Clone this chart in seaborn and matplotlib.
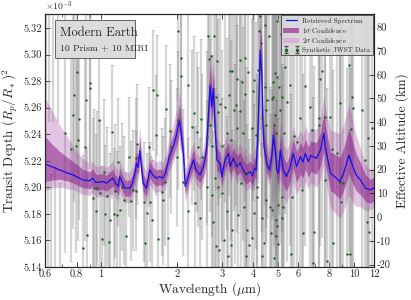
import numpy as np
import pandas as pd
import matplotlib
matplotlib.use("Agg")
import matplotlib.pyplot as plt
import seaborn as sns
from matplotlib.lines import Line2D
from matplotlib.patches import Patch, Rectangle
from matplotlib.ticker import FixedLocator, NullFormatter, FixedFormatter, LogLocator

###############
# data (depth in units of 1e-3)
###############

model_wl = [0.60, 0.64, 0.685, 0.73, 0.774, 0.81, 0.847, 0.88, 0.901, 0.926, 0.953, 0.98,
            1.02, 1.05, 1.08, 1.114, 1.14, 1.17, 1.185, 1.21, 1.24, 1.30, 1.33, 1.36, 1.38,
            1.40, 1.422, 1.466, 1.51, 1.558, 1.60, 1.65, 1.70, 1.75, 1.80, 1.86, 1.93, 1.99,
            2.04, 2.08, 2.12, 2.15, 2.19, 2.246, 2.32, 2.37, 2.46, 2.54, 2.61, 2.65, 2.697,
            2.74, 2.78, 2.82, 2.87, 2.954, 3.00, 3.09, 3.19, 3.24, 3.335, 3.44, 3.55, 3.65,
            3.74, 3.886, 3.97, 4.05, 4.10, 4.17, 4.256, 4.32, 4.36, 4.41, 4.52, 4.63, 4.73,
            4.80, 4.88, 4.95, 5.03, 5.11, 5.25, 5.41, 5.60, 5.75, 5.93, 6.14, 6.28, 6.42,
            6.60, 6.75, 6.90, 7.10, 7.37, 7.60, 7.70, 8.07, 8.40, 8.80, 9.10, 9.55, 9.90,
            10.2, 10.6, 11.1, 11.6, 12.0]
model_depth = [5.2175, 5.2155, 5.2131, 5.2110, 5.2094, 5.2075, 5.2056, 5.2052, 5.2048, 5.2069,
               5.2036, 5.2040, 5.2043, 5.2031, 5.2050, 5.2069, 5.2030, 5.2006, 5.2081, 5.2040,
               5.1994, 5.1994, 5.2030, 5.2106, 5.2181, 5.2150, 5.2275, 5.2031, 5.1994, 5.2131,
               5.2094, 5.2069, 5.2080, 5.2069, 5.2106, 5.2231, 5.2306, 5.2400, 5.2507, 5.2381,
               5.2231, 5.2006, 5.2050, 5.2131, 5.2206, 5.2131, 5.2094, 5.2156, 5.2281, 5.2507,
               5.2770, 5.2607, 5.2745, 5.2456, 5.2206, 5.2181, 5.2081, 5.2206, 5.2256, 5.2156,
               5.2219, 5.2156, 5.2185, 5.2131, 5.2094, 5.2118, 5.2086, 5.2144, 5.2131, 5.2407,
               5.3033, 5.2858, 5.2482, 5.2306, 5.2181, 5.2131, 5.2231, 5.2394, 5.2281, 5.2131,
               5.2106, 5.2281, 5.2131, 5.2081, 5.2156, 5.2256, 5.2156, 5.2231, 5.2190, 5.2256,
               5.2194, 5.2240, 5.2231, 5.2219, 5.2281, 5.2407, 5.2306, 5.2106, 5.2080, 5.2043,
               5.2106, 5.2243, 5.2156, 5.2094, 5.2056, 5.1994, 5.1981, 5.1996]
# band widths above / below the retrieved spectrum
up1 = [.021, .017, .014, .012, .010, .009, .008, .007, .007, .007, .006, .006, .006, .006, .006,
       .007, .006, .006, .007, .006, .006, .006, .006, .007, .008, .008, .010, .007, .006, .007,
       .006, .006, .006, .006, .007, .008, .009, .010, .012, .010, .008, .007, .007, .007, .008,
       .007, .007, .008, .010, .012, .014, .013, .014, .012, .009, .008, .007, .008, .008, .008,
       .008, .008, .008, .008, .008, .008, .008, .008, .009, .013, .020, .018, .014, .011, .009,
       .008, .009, .011, .010, .009, .009, .011, .010, .010, .010, .011, .011, .011, .011, .011,
       .011, .011, .011, .012, .013, .016, .016, .016, .017, .018, .019, .020, .018, .016, .013,
       .010, .008, .008]
dn1 = [.013, .010, .007, .006, .006, .006, .006, .006, .006, .006, .006, .006, .006, .006, .006,
       .006, .006, .006, .006, .006, .006, .006, .006, .006, .006, .006, .007, .006, .006, .006,
       .006, .006, .006, .006, .006, .007, .007, .008, .009, .008, .007, .006, .006, .006, .006,
       .006, .006, .007, .008, .009, .010, .010, .010, .009, .008, .007, .007, .007, .007, .007,
       .007, .007, .007, .007, .007, .007, .007, .007, .007, .010, .014, .013, .010, .008, .007,
       .007, .007, .008, .008, .007, .008, .012, .011, .011, .011, .011, .012, .013, .012, .012,
       .012, .012, .012, .012, .012, .013, .013, .013, .013, .013, .013, .014, .013, .012, .011,
       .010, .010, .010]
up2 = [.050, .042, .034, .028, .022, .018, .016, .014, .013, .013, .012, .012, .012, .012, .012,
       .013, .012, .012, .013, .012, .012, .012, .012, .014, .015, .015, .018, .013, .012, .013,
       .012, .012, .012, .012, .013, .015, .017, .019, .022, .019, .015, .013, .013, .013, .014,
       .013, .013, .014, .018, .022, .026, .024, .026, .022, .017, .015, .014, .015, .015, .014,
       .015, .014, .014, .014, .014, .014, .014, .015, .016, .024, .030, .028, .024, .019, .016,
       .015, .016, .019, .017, .016, .016, .022, .020, .020, .020, .021, .021, .020, .020, .021,
       .021, .021, .021, .022, .024, .028, .030, .032, .034, .036, .037, .038, .034, .030, .024,
       .018, .015, .015]
dn2 = [.020, .016, .013, .012, .011, .011, .011, .011, .011, .011, .011, .011, .011, .011, .011,
       .011, .011, .011, .011, .011, .011, .011, .011, .011, .011, .011, .012, .011, .011, .011,
       .011, .011, .011, .011, .011, .012, .012, .013, .014, .013, .012, .011, .011, .011, .011,
       .011, .011, .012, .013, .015, .016, .016, .016, .015, .013, .012, .012, .012, .012, .012,
       .012, .012, .012, .012, .012, .012, .012, .012, .012, .016, .020, .019, .016, .013, .012,
       .012, .012, .013, .013, .012, .014, .022, .020, .020, .020, .021, .021, .022, .021, .021,
       .021, .021, .021, .022, .022, .023, .024, .026, .027, .028, .028, .030, .027, .024, .020,
       .017, .015, .015]

data_wl = [0.605, 0.615, 0.625, 0.635, 0.645, 0.66, 0.675, 0.69, 0.719, 0.759, 0.774, 0.782,
           0.793, 0.802, 0.810, 0.819, 0.847, 0.861, 0.869, 0.882, 0.901, 0.907, 0.929, 0.937,
           0.954, 0.967, 0.984, 0.987, 1.008, 1.027, 1.040, 1.055, 1.072, 1.089, 1.105, 1.122,
           1.132, 1.156, 1.167, 1.193, 1.210, 1.232, 1.260, 1.286, 1.318, 1.341, 1.371, 1.380,
           1.390, 1.479, 1.498, 1.512, 1.545, 1.558, 1.591, 1.606, 1.646, 1.666, 1.681, 1.744,
           1.760, 1.788, 1.799, 1.832, 1.871, 1.885, 1.989, 2.007, 2.018, 2.063, 2.078, 2.112,
           2.199, 2.211, 2.287, 2.330, 2.351, 2.388, 2.423, 2.461, 2.477, 2.506, 2.616, 2.630,
           2.655, 2.679, 2.697, 2.722, 2.740, 2.754, 2.779, 2.797, 2.823, 2.835, 2.848, 2.882,
           2.895, 2.909, 2.922, 2.954, 3.001, 3.015, 3.073, 3.092, 3.141, 3.155, 3.169, 3.216,
           3.237, 3.251, 3.266, 3.287, 3.305, 3.366, 3.388, 3.420, 3.441, 3.459, 3.492, 3.530,
           3.546, 3.562, 3.602, 3.654, 3.671, 3.712, 3.721, 3.731, 3.745, 3.769, 3.824, 3.842,
           3.945, 3.967, 3.993, 4.011, 4.040, 4.111, 4.130, 4.142, 4.160, 4.207, 4.266, 4.285,
           4.309, 4.325, 4.345, 4.389, 4.437, 4.457, 4.469, 4.486, 4.498, 4.526, 4.592, 4.665,
           4.677, 4.721, 4.738, 4.781, 4.794, 4.807, 4.820, 4.864, 4.883, 4.896, 4.909, 4.927,
           4.945, 4.963, 4.982, 4.995, 5.009, 5.031, 5.111, 5.158, 5.176, 5.190, 5.203, 5.237,
           5.266, 5.350, 5.433, 5.600, 5.650, 5.686, 5.769, 5.951, 6.135, 6.232, 6.259, 6.381,
           6.722, 6.827, 6.890, 6.928, 7.250, 7.297, 7.366, 7.480, 7.659, 7.710, 7.830, 8.017,
           8.195, 8.232, 8.575, 8.781, 8.822, 8.863, 9.042, 9.397, 9.535, 9.685, 9.772, 9.835,
           9.890, 10.78, 11.01, 11.28, 11.31, 11.45, 11.81]
data_depth = [5.360, 5.110, 5.350, 5.120, 5.345, 5.125, 5.340, 5.118, 5.2411, 5.2286, 5.2546,
              5.2694, 5.2311, 5.2869, 5.2356, 5.2511, 5.1543, 5.2306, 5.2660, 5.1643, 5.2786,
              5.2749, 5.1923, 5.1993, 5.1825, 5.1998, 5.2506, 5.1960, 5.1610, 5.2113, 5.1798,
              5.1935, 5.1592, 5.1755, 5.2418, 5.1798, 5.1975, 5.1793, 5.2189, 5.1830, 5.2005,
              5.1905, 5.1635, 5.2231, 5.1900, 5.1981, 5.1975, 5.2219, 5.2326, 5.1893, 5.1580,
              5.1806, 5.2306, 5.1893, 5.1755, 5.2732, 5.2394, 5.2694, 5.1610, 5.1968, 5.1905,
              5.2043, 5.2589, 5.1618, 5.2426, 5.2306, 5.2226, 5.2506, 5.3175, 5.2837, 5.2977,
              5.2043, 5.1818, 5.2774, 5.2456, 5.2557, 5.1881, 5.2418, 5.2306, 5.1768, 5.2514,
              5.2231, 5.2005, 5.2376, 5.3137, 5.2964, 5.2469, 5.2987, 5.2313, 5.1943, 5.1742,
              5.3137, 5.2068, 5.1555, 5.2681, 5.2949, 5.2569, 5.2005, 5.1530, 5.2626, 5.2313,
              5.1956, 5.1605, 5.2606, 5.2406, 5.1818, 5.1480, 5.2694, 5.2876, 5.2356, 5.1567,
              5.1680, 5.2876, 5.2581, 5.2181, 5.2619, 5.2444, 5.2812, 5.1793, 5.2957, 5.2576,
              5.2031, 5.2794, 5.2406, 5.1855, 5.2970, 5.2699, 5.2106, 5.1480, 5.1680, 5.2869,
              5.1567, 5.2444, 5.1618, 5.2726, 5.1806, 5.2807, 5.2394, 5.2005, 5.1930, 5.2887,
              5.3175, 5.3290, 5.3087, 5.2519, 5.1768, 5.1480, 5.1580, 5.3225, 5.2752, 5.2581,
              5.2469, 5.1905, 5.2656, 5.3137, 5.1855, 5.1655, 5.2662, 5.1830, 5.2681, 5.2794,
              5.2469, 5.1468, 5.2861, 5.2544, 5.1755, 5.1630, 5.2411, 5.2831, 5.1705, 5.3252,
              5.1868, 5.1573, 5.2752, 5.2581, 5.3157, 5.2681, 5.1930, 5.1768, 5.1855, 5.2406,
              5.2906, 5.2644, 5.2769, 5.1500, 5.1926, 5.2386, 5.2343, 5.2519, 5.1981, 5.1655,
              5.2762, 5.2602, 5.2431, 5.1430, 5.1667, 5.2469, 5.2519, 5.2819, 5.2876, 5.2527,
              5.2056, 5.1447, 5.2527, 5.2286, 5.1580, 5.2261, 5.2636, 5.2043, 5.1893, 5.2031,
              5.1500, 5.2919, 5.1500, 5.2436, 5.2681, 5.2594, 5.2581, 5.2206, 5.1742, 5.2375,
              5.1667, 5.2444]
data_err = [0.100, 0.095, 0.100, 0.090, 0.095, 0.090, 0.090, 0.085, 0.090, 0.085, 0.085, 0.080,
            0.080, 0.075, 0.075, 0.075, 0.070, 0.070, 0.065, 0.065, 0.060, 0.060, 0.060, 0.060,
            0.058, 0.058, 0.055, 0.055, 0.055, 0.055, 0.052, 0.052, 0.052, 0.050, 0.050, 0.050,
            0.050, 0.048, 0.048, 0.048, 0.048, 0.048, 0.048, 0.045, 0.045, 0.045, 0.045, 0.045,
            0.045, 0.045, 0.045, 0.045, 0.045, 0.045, 0.045, 0.045, 0.045, 0.045, 0.045, 0.048,
            0.048, 0.048, 0.048, 0.048, 0.050, 0.050, 0.052, 0.052, 0.052, 0.055, 0.055, 0.055,
            0.055, 0.055, 0.058, 0.058, 0.058, 0.060, 0.060, 0.060, 0.060, 0.062, 0.065, 0.065,
            0.065, 0.065, 0.065, 0.065, 0.068, 0.068, 0.068, 0.068, 0.068, 0.068, 0.070, 0.070,
            0.070, 0.070, 0.070, 0.070, 0.072, 0.072, 0.072, 0.072, 0.072, 0.072, 0.072, 0.075,
            0.075, 0.075, 0.075, 0.075, 0.075, 0.075, 0.075, 0.075, 0.078, 0.078, 0.078, 0.078,
            0.078, 0.078, 0.078, 0.080, 0.080, 0.080, 0.080, 0.080, 0.080, 0.080, 0.080, 0.080,
            0.082, 0.082, 0.082, 0.082, 0.082, 0.085, 0.085, 0.085, 0.085, 0.085, 0.085, 0.085,
            0.085, 0.085, 0.085, 0.088, 0.088, 0.088, 0.088, 0.088, 0.088, 0.088, 0.090, 0.090,
            0.090, 0.090, 0.090, 0.090, 0.090, 0.090, 0.092, 0.092, 0.092, 0.092, 0.092, 0.092,
            0.095, 0.095, 0.095, 0.095, 0.095, 0.095, 0.100, 0.100, 0.100, 0.100, 0.100, 0.105,
            0.105, 0.110, 0.120, 0.120, 0.120, 0.120, 0.120, 0.120, 0.120, 0.120, 0.120, 0.120,
            0.125, 0.125, 0.125, 0.125, 0.125, 0.125, 0.125, 0.125, 0.130, 0.130, 0.130, 0.130,
            0.130, 0.130, 0.135, 0.135, 0.135, 0.135, 0.135, 0.140, 0.140, 0.140, 0.140, 0.140,
            0.140, 0.150, 0.150, 0.150, 0.150, 0.150, 0.150]

xticks = [0.6, 0.8, 1, 2, 3, 4, 5, 6, 8, 10, 12]
xtick_labels = ['0.6', '0.8', '1', '2', '3', '4', '5', '6', '8', '10', '12']
yticks = [5.14, 5.16, 5.18, 5.20, 5.22, 5.24, 5.26, 5.28, 5.30, 5.32]
alt_ticks = [-20, -10, 0, 10, 20, 30, 40, 50, 60, 70, 80]

###############
# plot
###############

sns.set_style("ticks")
plt.rcParams['font.family'] = ['cmr10', 'DejaVu Serif']
plt.rcParams['mathtext.fontset'] = 'cm'
plt.rcParams['axes.unicode_minus'] = False
plt.rcParams['axes.formatter.use_mathtext'] = True

df = pd.DataFrame({'wl': model_wl, 'depth': model_depth})
m = np.array(model_depth)

fig = plt.figure(figsize=(4.11, 3.0), dpi=100)
ax = fig.add_axes([0.1095, 0.110, 0.8005, 0.8433])
ax.set_xscale('log')

eb = ax.errorbar(data_wl, data_depth, yerr=data_err, fmt='none', ecolor='0.5',
                 elinewidth=1.6, capsize=1.2, capthick=0.5, alpha=0.33, zorder=1)

ax.fill_between(model_wl, m - np.array(dn2), m + np.array(up2), color='#a040a0',
                alpha=0.3, lw=0, zorder=2)
ax.fill_between(model_wl, m - np.array(dn1), m + np.array(up1), color='#8a1f8a',
                alpha=0.55, lw=0, zorder=3)
sns.lineplot(data=df, x='wl', y='depth', ax=ax, color='#1010ee', lw=0.9, zorder=4)
sns.scatterplot(x=data_wl, y=data_depth, ax=ax, color='#1f5f1f', s=3, marker='o',
                linewidth=0, zorder=5)

ax.set_xlim(0.6, 12)
ax.set_ylim(5.14, 5.3305)
ax.xaxis.set_major_locator(FixedLocator(xticks))
ax.xaxis.set_major_formatter(FixedFormatter(xtick_labels))
ax.xaxis.set_minor_locator(LogLocator(base=10, subs=np.arange(1, 10) * 0.1, numticks=100))
ax.xaxis.set_minor_formatter(NullFormatter())
ax.set_yticks(yticks)
ax.set_yticklabels(['%.2f' % t for t in yticks])
ax.tick_params(axis='both', which='major', direction='in', labelsize=7.5, length=3.5,
               width=0.6, top=True, pad=2)
ax.tick_params(axis='x', which='minor', direction='in', length=2, width=0.5, top=True)
ax.set_xlabel('Wavelength ($\\mu$m)', fontsize=9.5, labelpad=1)
ax.set_ylabel('Transit Depth $(R_p/R_*)^2$', fontsize=9.5, labelpad=3)
ax.text(0.0, 1.005, '$\\times10^{-3}$', transform=ax.transAxes, fontsize=7,
        va='bottom', ha='left')

ax2 = ax.twinx()
ax2.set_ylim(-21.0, 85.6)
ax2.set_yticks(alt_ticks)
ax2.set_yticklabels([str(t) for t in alt_ticks])
ax2.tick_params(axis='y', direction='in', labelsize=7.5, length=3.5, width=0.6, pad=2)
ax2.set_ylabel('Effective Altitude (km)', fontsize=9.5, labelpad=3)

for a in (ax, ax2):
    for s in a.spines.values():
        s.set_linewidth(0.8)

# title box
ax.add_patch(Rectangle((0.029, 0.826), 0.244, 0.15, transform=ax.transAxes,
                       facecolor='#dcdcdc', edgecolor='0.3', lw=0.6, zorder=6))
ax.text(0.045, 0.925, 'Modern Earth', transform=ax.transAxes, fontsize=9,
        va='center', ha='left', zorder=7)
ax.text(0.045, 0.865, '10 Prism + 10 MIRI', transform=ax.transAxes, fontsize=7,
        va='center', ha='left', zorder=7)

proxy_eb = ax.errorbar([np.nan], [np.nan], yerr=[1], fmt='o', ms=1.5, color='#1f5f1f',
                       ecolor='0.3', elinewidth=0.6, capsize=1.2)
handles = [Line2D([0], [0], color='#1010ee', lw=0.9),
           Patch(facecolor='#a0409a', alpha=0.8, lw=0),
           Patch(facecolor='#d8b0d8', lw=0),
           proxy_eb]
labels = ['Retrieved Spectrum', '1$\\sigma$ Confidence', '2$\\sigma$ Confidence',
          'Synthetic JWST Data']
leg = ax2.legend(handles, labels, loc='upper right', fontsize=5, frameon=True,
                 fancybox=False, numpoints=2, handlelength=2.2, borderpad=0.35,
                 labelspacing=0.25, handletextpad=0.5, borderaxespad=0.2)
leg.get_frame().set_facecolor('#d8d8d8')
leg.get_frame().set_edgecolor('0.2')
leg.get_frame().set_linewidth(0.6)
leg.get_frame().set_alpha(0.9)

fig.savefig('out.png', dpi=100)
